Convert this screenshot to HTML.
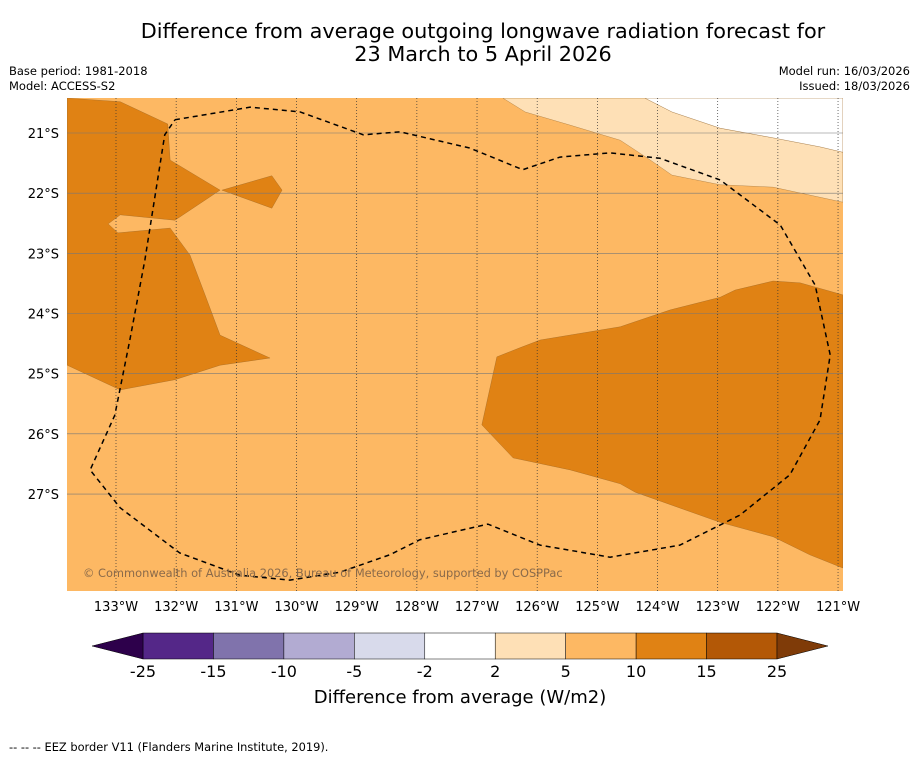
<!DOCTYPE html>
<html><head><meta charset="utf-8"><style>
body{margin:0;background:#fff;width:919px;height:758px;overflow:hidden;font-family:"DejaVu Sans","Liberation Sans",sans-serif}
</style></head><body>
<svg id="s" width="919" height="758" xmlns="http://www.w3.org/2000/svg" font-family="DejaVu Sans, Liberation Sans, sans-serif">
<text x="483" y="38" font-size="20.8" text-anchor="middle">Difference from average outgoing longwave radiation forecast for</text>
<text x="483" y="61" font-size="20.8" text-anchor="middle">23 March to 5 April 2026</text>
<text x="9" y="75" font-size="11.5">Base period: 1981-2018</text>
<text x="9" y="90" font-size="11.5">Model: ACCESS-S2</text>
<text x="910" y="75" font-size="11.5" text-anchor="end">Model run: 16/03/2026</text>
<text x="910" y="90" font-size="11.5" text-anchor="end">Issued: 18/03/2026</text>
<defs><clipPath id="mc"><rect x="67" y="98" width="776" height="493"/></clipPath></defs>
<g id="map" clip-path="url(#mc)"></g>
<text x="83" y="577" font-size="11.4" fill="#8a6a4a">© Commonwealth of Australia 2026, Bureau of Meteorology, supported by COSPPac</text>
<g id="axes"></g>
<g id="cbar"></g>
<text x="460" y="703" font-size="18" text-anchor="middle">Difference from average (W/m2)</text>
<text x="9" y="751" font-size="11.4">--  --  -- EEZ border V11 (Flanders Marine Institute, 2019).</text>
</svg>
<script>
const lonTicks=[-133,-132,-131,-130,-129,-128,-127,-126,-125,-124,-123,-122,-121];
const latTicks=[-21,-22,-23,-24,-25,-26,-27];
const darkLeftLon=[-133.81,-132.93,-132.14,-132.10,-131.27,-132.02,-132.93,-133.13,-132.97,-132.10,-131.77,-131.52,-131.27,-130.44,-131.27,-132.02,-132.93,-133.81];
const darkLeftLat=[-20.42,-20.48,-20.85,-21.45,-21.95,-22.45,-22.36,-22.51,-22.66,-22.58,-23.03,-23.69,-24.36,-24.74,-24.86,-25.10,-25.27,-24.86];
const islandLon=[-131.24,-130.41,-130.24,-130.41];
const islandLat=[-21.95,-21.71,-21.95,-22.25];
const darkRightLon=[-120.92,-121.63,-122.08,-122.71,-122.96,-123.79,-124.62,-125.95,-126.29,-126.67,-126.92,-126.40,-125.45,-124.62,-124.37,-122.96,-122.08,-121.47,-120.92];
const darkRightLat=[-23.69,-23.49,-23.46,-23.61,-23.73,-23.94,-24.22,-24.44,-24.57,-24.72,-25.85,-26.40,-26.60,-26.83,-26.97,-27.47,-27.71,-28.01,-28.23];
const lightLon=[-126.57,-126.20,-125.45,-124.62,-124.12,-123.76,-122.96,-122.08,-120.92,-120.92,-121.30,-122.08,-122.96,-123.76,-124.21];
const lightLat=[-20.42,-20.65,-20.87,-21.12,-21.45,-21.70,-21.86,-21.90,-22.15,-21.32,-21.23,-21.08,-20.92,-20.65,-20.42];
const whiteLon=[-124.21,-123.76,-122.96,-122.08,-121.30,-120.92,-120.92];
const whiteLat=[-20.42,-20.65,-20.92,-21.08,-21.23,-21.32,-20.42];
const eezLon=[-132.02,-130.77,-129.94,-128.89,-128.28,-127.12,-126.24,-125.62,-124.79,-123.96,-122.96,-121.96,-121.38,-121.13,-121.30,-121.80,-122.63,-123.63,-124.79,-125.95,-126.82,-127.95,-128.45,-129.28,-130.11,-130.94,-131.94,-132.93,-133.43,-133.02,-132.77,-132.52,-132.19,-132.02];
const eezLat=[-20.78,-20.57,-20.65,-21.03,-20.98,-21.25,-21.61,-21.40,-21.33,-21.42,-21.78,-22.53,-23.53,-24.69,-25.77,-26.68,-27.35,-27.85,-28.05,-27.85,-27.50,-27.76,-28.01,-28.30,-28.43,-28.35,-27.98,-27.23,-26.60,-25.69,-24.44,-23.11,-21.03,-20.78];
const cbLevels=[-25,-15,-10,-5,-2,2,5,10,15,25];
const cbColors=["#542788","#8073ac","#b2abd2","#d8daeb","#ffffff","#fee0b6","#fdb863","#e08214","#b35806"];
const NS="http://www.w3.org/2000/svg";
const X=lon=>116+(lon+133)*60.17, Y=lat=>133-(lat+21)*60.17;
function mk(t,a,p){const e=document.createElementNS(NS,t);for(const k in a)e.setAttribute(k,a[k]);p.appendChild(e);return e;}
const map=document.getElementById('map'),axes=document.getElementById('axes'),cb=document.getElementById('cbar');
let bg=mk('rect',{x:67,y:98,width:776,height:493,fill:'#fdb863'},map);


function poly(lons,lats,fill,name){const p=mk('polygon',{points:lons.map((l,i)=>X(l)+','+Y(lats[i])).join(' '),fill:fill,stroke:'#8a5a20','stroke-width':0.3},map);

}
poly(lightLon,lightLat,'#fee0b6','contour-2-5');
poly(whiteLon,whiteLat,'#ffffff','contour-neutral');
poly(darkLeftLon,darkLeftLat,'#e08214','contour-10-15-west');
poly(islandLon,islandLat,'#e08214','contour-10-15-patch');
poly(darkRightLon,darkRightLat,'#e08214','contour-10-15-east');
latTicks.forEach(t=>{let l=mk('line',{x1:67,x2:843,y1:Y(t),y2:Y(t),stroke:'#777','stroke-width':0.6},map);


let tx=mk('text',{x:59,y:Y(t)+5,'font-size':13,'text-anchor':'end'},axes);tx.textContent=(-t)+'°S';

});
lonTicks.forEach(t=>{let l=mk('line',{x1:X(t),x2:X(t),y1:98,y2:591,stroke:'#333','stroke-width':0.7,'stroke-dasharray':'1,2'},map);


let tx=mk('text',{x:X(t),y:611,'font-size':13,'text-anchor':'middle'},axes);tx.textContent=(-t)+'°W';

});
let ez=mk('polyline',{points:eezLon.map((l,i)=>X(l)+','+Y(eezLat[i])).join(' '),fill:'none',stroke:'#000','stroke-width':1.5,'stroke-dasharray':'5,4'},map);


const cx0=143,cx1=777,cy=633,ch=26,n=cbColors.length,w=(cx1-cx0)/n;
cbColors.forEach((c,i)=>{let r=mk('rect',{x:cx0+i*w,y:cy,width:w,height:ch,fill:c,stroke:'#000','stroke-width':0.5},cb);

});
let t1=mk('polygon',{points:`${cx0},${cy} ${cx0},${cy+ch} 92,${cy+ch/2}`,fill:'#2d004b',stroke:'#000','stroke-width':0.5},cb);


let t2=mk('polygon',{points:`${cx1},${cy} ${cx1},${cy+ch} 828,${cy+ch/2}`,fill:'#7f3b08',stroke:'#000','stroke-width':0.5},cb);


cbLevels.forEach((v,i)=>{let tx=mk('text',{x:cx0+i*w,y:677,'font-size':16,'text-anchor':'middle'},cb);tx.textContent=v;

});
</script>
</body></html>
